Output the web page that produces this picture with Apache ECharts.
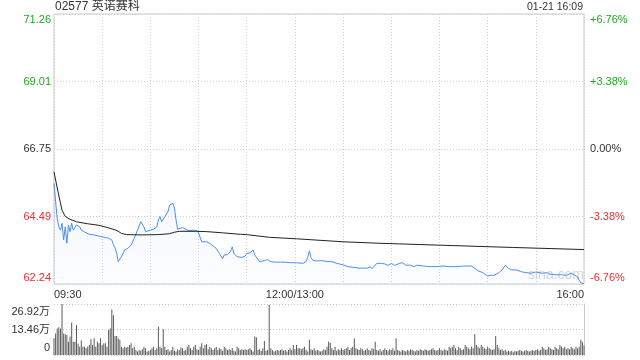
<!DOCTYPE html>
<html><head><meta charset="utf-8">
<script src="https://cdn.jsdelivr.net/npm/echarts@6/dist/echarts.min.js"></script>
<style>html,body{margin:0;padding:0;background:#fff}#c{width:640px;height:360px}</style>
</head><body><div id="c"></div>
<script>
// ---- data (trading minutes since 09:30, lunch break removed; 150 = 12:00/13:00, 330 = 16:00) ----
const stockTitle = '02577 英诺赛科';
const stampText = '01-21 16:09';
const prevClose = 66.75;
const priceTicks = [62.24, 64.49, 66.75, 69.01, 71.26];
const pctTicks = ['-6.76%', '-3.38%', '0.00%', '+3.38%', '+6.76%'];
const timeLabels = {0: '09:30', 150: '12:00/13:00', 330: '16:00'};
const volTickLabels = ['0', '13.46万', '26.92万'];
const volMax = 26.92; // 万

const priceMinutes = [0,1,2,3,4,5,6,7,8,9,10,11,12,14,16,17,20,22,25,28,30,32,34,36,37,38,39,40,41,42,44,46,48,50,52,54,55,56,57,58,60,62,64,65,66,67,69,71,72,74,75,76,77,78,80,82,84,87,89,90,92,93,95,97,99,101,103,105,106,108,110,111,112,114,117,119,120,122,124,125,126,128,129,131,133,135,137,141,144,147,151,155,157,158,159,160,161,163,167,170,173,176,180,183,186,190,195,197,198,201,204,206,208,210,212,213,215,217,219,222,224,226,230,234,238,242,246,251,255,260,262,264,267,270,272,274,277,279,281,283,285,288,291,294,297,300,304,307,309,312,316,319,322,324,326,327,328,330];
const prices = [65.60,65.00,64.43,64.15,64.04,64.27,63.71,64.15,63.60,64.21,63.99,64.27,64.04,64.21,64.15,64.04,63.95,63.90,63.88,63.84,63.82,63.79,63.77,63.71,63.55,63.45,63.27,62.99,63.05,63.15,63.38,63.43,63.54,63.77,64.04,64.32,64.38,64.15,63.99,63.93,64.04,64.07,64.15,64.38,64.49,64.32,64.49,64.66,64.88,64.94,64.77,64.38,64.07,64.10,64.13,64.07,64.02,64.04,64.02,63.95,63.65,63.71,63.65,63.60,63.51,63.43,63.26,63.08,63.21,63.22,63.33,63.48,63.26,63.15,63.13,63.17,63.26,63.28,63.38,63.21,63.15,62.99,63.04,63.02,63.06,62.99,62.97,62.97,62.97,62.95,62.95,62.93,62.99,63.13,63.35,63.13,63.04,63.01,63.02,62.99,62.99,62.93,62.88,62.82,62.80,62.77,62.77,62.82,62.75,62.93,62.93,62.91,62.86,62.93,62.86,62.87,62.93,62.95,62.87,62.87,62.82,62.87,62.84,62.82,62.82,62.84,62.82,62.82,62.84,62.84,62.76,62.68,62.62,62.51,62.53,62.53,62.62,62.71,62.87,62.76,62.71,62.71,62.65,62.62,62.60,62.64,62.60,62.62,62.57,62.55,62.55,62.53,62.60,62.54,62.48,62.37,62.28,62.25];

const avgMinutes = [0,2,4,5,7,10,14,20,28,33,38,40,42,45,55,65,72,75,78,88,95,105,116,120,134,151,180,203,215,244,286,330];
const avgPrices = [65.99,65.45,64.95,64.70,64.50,64.40,64.32,64.26,64.20,64.13,64.05,64.00,63.93,63.89,63.88,63.89,63.92,63.97,64.00,64.00,63.99,63.95,63.90,63.89,63.80,63.75,63.65,63.60,63.58,63.53,63.46,63.39];

// volume per minute, in 万 shares, minutes 0..330
const volumes = [
8.8,11.4,14,14.6,14,26.9,11.4,10.9,10.6,7,
9.7,17.2,7,7,15.8,6,4.4,7.6,4.4,4.4,
3.5,4.4,5.3,8.3,5.3,8.8,4.4,7,6.2,8.8,
5.3,6.2,6.2,4.4,13.2,14,24,21,10,10,
8.8,8,4.4,3.5,4.4,3.9,4.4,5.3,6.2,3.5,
4.4,2.6,1.8,2.6,2.3,3,4.4,3.5,1.8,2.3,
2.6,3.5,4.4,2.6,3.5,15,4.4,3.5,13.6,4.4,
2.6,3,1.8,2.6,4.4,2.2,1.8,3,2.5,4,
3.5,2.2,2.6,4.4,5.3,3.5,2.6,4.4,5.3,3,
2.6,4.4,6.2,3.5,5.3,5.8,3,4.4,3.5,2.6,
3.5,4.4,2.6,3.5,3,2.2,4.4,3.5,2.6,3,
2.6,3.5,2.2,1.8,4.4,3.5,2.6,3,2.6,3,
2.6,3,3.5,2.6,1.8,9.7,9.4,2.6,3,2.2,
3.5,7.4,2.2,2.6,26.4,3.5,2.6,1.8,2.2,2.6,
2.2,2.6,3,2.2,2.6,1.8,2.6,3.5,2.6,5.3,
3,5.3,3.5,3.5,3,3.5,4.4,2.6,1.8,8,
3,2.6,3.5,2.2,2.6,2.2,1.8,2.2,3,2.6,
4.4,7,6.5,3.5,2.6,4.4,2.2,3,2.6,3.5,
2.6,3,3.5,4.4,2.6,3.5,4.4,8.8,3.5,3,
2.6,3.5,3,2.2,2.6,3.5,2.6,2.2,3.5,3,
7,2.6,2.2,3,1.8,2.6,3.5,2.6,2.2,3,
2.6,3.5,2.2,8.8,2.6,2.2,1.8,2.6,2.2,1.8,
2.6,2.2,3,2.6,2.2,1.8,2.6,2.2,3,2.6,
2.2,3,2.6,2.2,2.6,3,3.5,2.6,2.2,2.6,
3.5,2.6,2.2,3,2.6,2.2,4.4,3.5,4.4,5.3,
3.5,2.6,4.4,3.5,2.6,3,5.3,4.4,3.5,3,
4.4,3.5,11,5.3,4.4,3.5,5.3,4.4,3.5,3,
4.4,3.5,3,2.6,3,10,5.3,3.5,2.6,3,
2.2,2.6,1.8,2.2,1.8,2.2,1.5,2.2,1.8,2.2,
2.6,2.2,1.8,2.2,2.6,2.2,1.8,2.2,2.6,2.2,
2.6,3,2.2,2.6,4.4,3.5,2.6,3,4.4,3.5,
3,2.6,4.4,3.5,3,5.3,4.4,3.5,4.4,3,
3.5,3,4.4,3.5,3,4.4,3.5,4.4,8,7,5];

// ---- chart ----
const GREEN = '#1fa81f', RED = '#f02c2c', DARK = '#333';
const FONT = '"Liberation Sans", Arial, "Noto Sans CJK SC", sans-serif';
const priceMin = priceTicks[0], priceMax = priceTicks[priceTicks.length - 1];
const priceStep = (priceMax - priceMin) / (priceTicks.length - 1);
function tickIndex(v) { return Math.round((v - priceMin) / priceStep); }

const priceRich = {
  gt: {color: GREEN, fontSize: 11, fontFamily: FONT, padding: [12, 0, 0, 0]},
  g: {color: GREEN, fontSize: 11, fontFamily: FONT},
  n: {color: DARK, fontSize: 11, fontFamily: FONT},
  r: {color: RED, fontSize: 11, fontFamily: FONT},
  rb: {color: RED, fontSize: 11, fontFamily: FONT, padding: [0, 0, 12, 0]}
};
function styleKey(i) { return i === 4 ? 'gt' : i === 3 ? 'g' : i === 2 ? 'n' : i === 1 ? 'r' : 'rb'; }

const chart = echarts.init(document.getElementById('c'), null, {renderer: 'canvas'});
chart.setOption({
  animation: false,
  backgroundColor: '#fff',
  textStyle: {fontFamily: FONT},
  grid: [
    {left: 54, top: 14, width: 530, height: 270, show: true, borderColor: '#c8c8c8', borderWidth: 1, backgroundColor: 'transparent'},
    {left: 54, top: 304, width: 530, height: 51}
  ],
  xAxis: [
    {type: 'value', gridIndex: 0, min: 0, max: 330, interval: 30,
      axisLine: {show: false}, axisTick: {show: false},
      splitLine: {show: true, lineStyle: {color: '#d0d0d0', type: [1, 2], width: 1}},
      axisLabel: {show: true, color: DARK, fontSize: 11, fontFamily: FONT, margin: 5,
        showMinLabel: true, showMaxLabel: true, alignMinLabel: 'left', alignMaxLabel: 'right',
        formatter: v => timeLabels[v] || ''}},
    {type: 'value', gridIndex: 1, min: 0, max: 330, interval: 30,
      axisLine: {show: false}, axisTick: {show: false}, splitLine: {show: false}, axisLabel: {show: false}}
  ],
  yAxis: [
    {type: 'value', gridIndex: 0, min: priceMin, max: priceMax, interval: priceStep,
      axisLine: {show: false}, axisTick: {show: false},
      splitLine: {show: true, lineStyle: {color: '#d0d0d0', type: [1, 2], width: 1}},
      axisLabel: {margin: 3, showMinLabel: true, showMaxLabel: true,
        formatter: v => { const i = tickIndex(v); return '{' + styleKey(i) + '|' + priceTicks[i].toFixed(2) + '}'; },
        rich: priceRich}},
    {type: 'value', gridIndex: 0, position: 'right', min: priceMin, max: priceMax, interval: priceStep,
      axisLine: {show: false}, axisTick: {show: false}, splitLine: {show: false},
      axisLabel: {margin: 6, align: 'left', showMinLabel: true, showMaxLabel: true,
        formatter: v => { const i = tickIndex(v); return '{' + styleKey(i) + '|' + pctTicks[i] + '}'; },
        rich: priceRich}},
    {type: 'value', gridIndex: 1, min: 0, max: volMax, interval: volMax / 2,
      axisLine: {show: false}, axisTick: {show: false},
      splitLine: {show: true, lineStyle: {color: '#c8c8c8', type: [1, 2], width: 1}},
      axisLabel: {margin: 4, showMinLabel: true, showMaxLabel: true,
        formatter: v => { const i = Math.round(v / (volMax / 2)); return '{' + (i === 2 ? 't' : i === 0 ? 'b' : 'm') + '|' + volTickLabels[i] + '}'; },
        rich: {
          t: {color: DARK, fontSize: 11, fontFamily: FONT, padding: [15, 0, 0, 0]},
          m: {color: DARK, fontSize: 11, fontFamily: FONT},
          b: {color: DARK, fontSize: 11, fontFamily: FONT, padding: [0, 0, 14, 0]}
        }}},
    {type: 'value', gridIndex: 1, position: 'right', min: 0, max: volMax,
      axisLine: {show: true, lineStyle: {color: '#c8c8c8'}}, axisTick: {show: false},
      splitLine: {show: false}, axisLabel: {show: false}}
  ],
  series: [
    {type: 'line', xAxisIndex: 0, yAxisIndex: 0, symbol: 'none', z: 3,
      data: priceMinutes.map((m, i) => [m, prices[i]]),
      lineStyle: {color: '#4d8fec', width: 1},
      areaStyle: {origin: 'start', color: new echarts.graphic.LinearGradient(0, 0, 0, 1, [
        {offset: 0, color: 'rgba(77,143,236,0.10)'}, {offset: 1, color: 'rgba(77,143,236,0.02)'}])}},
    {type: 'line', xAxisIndex: 0, yAxisIndex: 0, symbol: 'none', z: 4,
      data: avgMinutes.map((m, i) => [m, avgPrices[i]]),
      lineStyle: {color: '#222', width: 1}},
    {type: 'bar', xAxisIndex: 1, yAxisIndex: 2, barWidth: 1, barGap: '0%',
      itemStyle: {color: '#5a5a5a'},
      data: volumes.map((v, i) => [i, v])}
  ],
  graphic: [
    {type: 'text', left: 55, top: 1, style: {text: stockTitle, fill: DARK, fontSize: 12, fontFamily: FONT}},
    {type: 'text', right: 57, top: 2, style: {text: stampText, fill: DARK, fontSize: 10.5, fontFamily: FONT}},
    {type: 'text', left: 528, top: 268, z: 1, style: {text: 'sina.com', fill: '#d6d6d6', fontSize: 14, fontFamily: FONT}}
  ]
});
</script></body></html>
